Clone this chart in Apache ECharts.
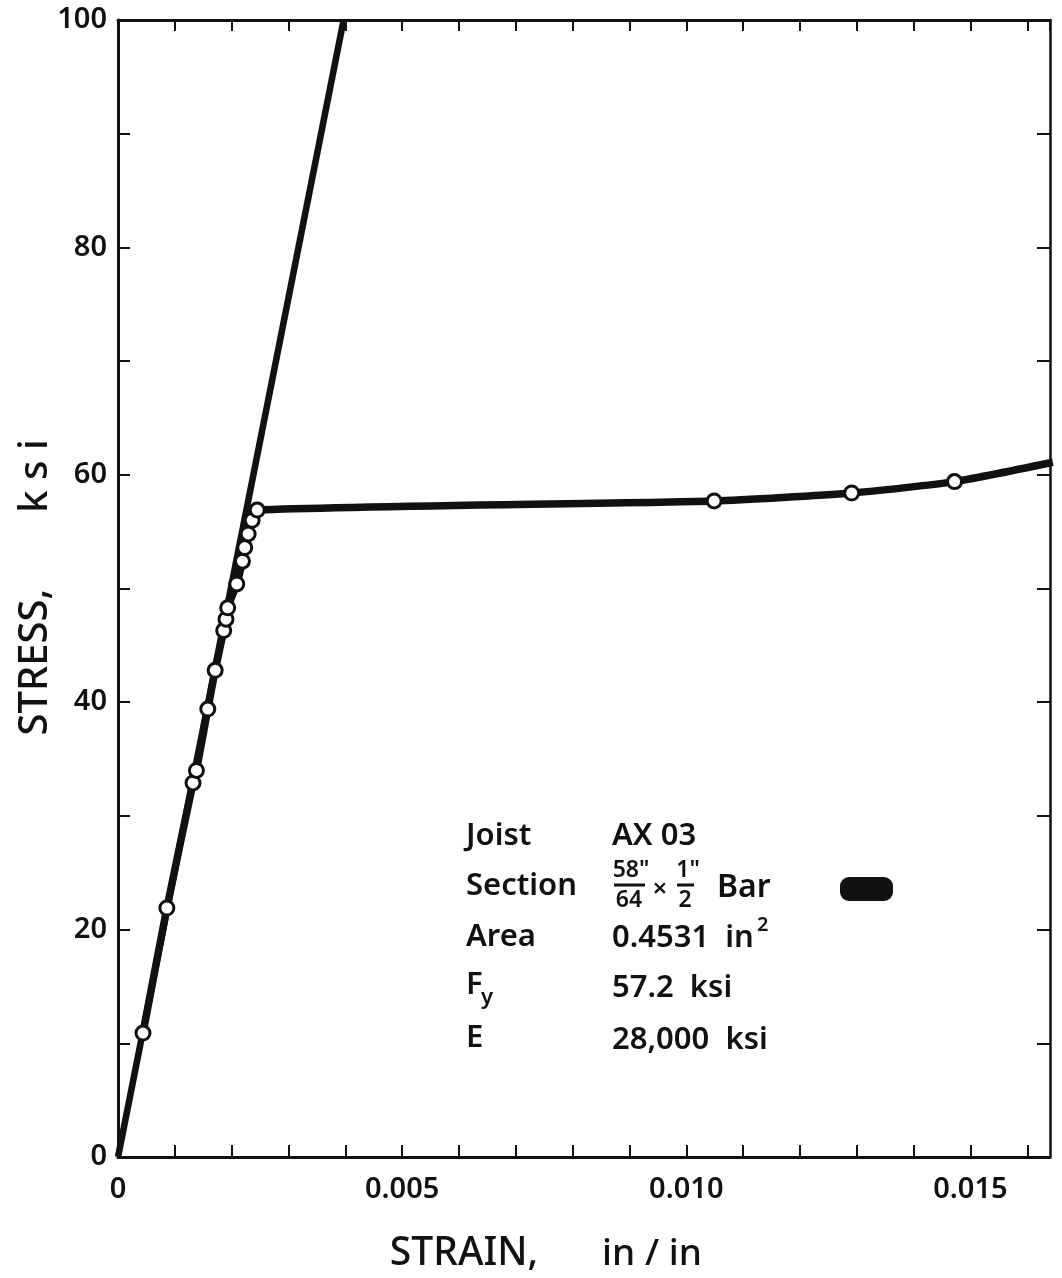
<!DOCTYPE html>
<html>
<head>
<meta charset="utf-8">
<script src="https://cdn.jsdelivr.net/npm/echarts@6/dist/echarts.min.js"></script>
<style>
  html, body { margin: 0; padding: 0; background: #ffffff; }
  #chart { width: 1062px; height: 1278px; }
</style>
</head>
<body>
<div id="chart"></div>
<script>
// Stress-strain record for joist AX03 (strain in in/in, stress in ksi)
const strainTickLabels = ['0', '0.005', '0.010', '0.015'];
const stressTickLabels = ['0', '20', '40', '60', '80', '100'];

// Elastic reference line from the origin
const elasticStrain = [0, 0.00397];
const elasticStress = [0, 100];

// Measured points
const testStrain = [0.00044, 0.00086, 0.00132, 0.00138, 0.00158, 0.00171, 0.00186, 0.00190,
                    0.00193, 0.00209, 0.00219, 0.00223, 0.00229, 0.00236, 0.00245,
                    0.01049, 0.01291, 0.01472];
const testStress = [10.9, 21.9, 32.9, 34.0, 39.4, 42.8, 46.3, 47.3,
                    48.3, 50.4, 52.4, 53.6, 54.8, 56.0, 56.9,
                    57.7, 58.4, 59.4];
// Curve continues past the last reading to the edge of the plot
const tailStrain = [0.01645];
const tailStress = [61.1];

const X_MIN = 0, X_MAX = 0.0164, Y_MIN = 0, Y_MAX = 100;
const FONT = '"Noto Sans", "DejaVu Sans", sans-serif';
const INK = '#111111';

const chart = echarts.init(document.getElementById('chart'), null, { renderer: 'canvas' });

const elasticData = elasticStrain.map((x, i) => [x, elasticStress[i]]);
const testData = testStrain.map((x, i) => [x, testStress[i]]);
tailStrain.forEach((x, i) => testData.push({ value: [x, tailStress[i]], symbol: 'none' }));

function strainLabel(v) {
  const k = Math.round(v * 1000);
  if (Math.abs(v * 1000 - k) > 1e-6 || k % 5 !== 0) return '';
  return strainTickLabels[k / 5] || '';
}
function stressLabel(v) {
  const k = Math.round(v);
  if (k % 20 !== 0) return '';
  return stressTickLabels[k / 20] || '';
}

const axisLineStyle = { color: INK, width: 3 };

function txt(x, y, text, size, extra) {
  return Object.assign({
    type: 'text', x: x, y: y,
    style: { text: text, font: '600 ' + size + 'px ' + FONT, fill: INK,
             align: 'left', verticalAlign: 'middle' }
  }, extra || {});
}
function ctxt(x, y, text, size) {
  const t = txt(x, y, text, size);
  t.style.align = 'center';
  return t;
}

const option = {
  backgroundColor: '#ffffff',
  animation: false,
  grid: { left: 118, right: 12, top: 20, bottom: 121, containLabel: false },
  xAxis: [
    {
      type: 'value', position: 'bottom', min: X_MIN, max: X_MAX, interval: 0.001,
      axisLine: { show: true, onZero: false, lineStyle: axisLineStyle },
      axisTick: { show: true, inside: true, length: 12, lineStyle: { color: INK, width: 2 } },
      axisLabel: { show: true, margin: 18, formatter: strainLabel, color: INK,
                   fontFamily: FONT, fontSize: 29, fontWeight: 600, showMaxLabel: false },
      splitLine: { show: false }
    },
    {
      type: 'value', position: 'top', min: X_MIN, max: X_MAX, interval: 0.001,
      axisLine: { show: true, onZero: false, lineStyle: axisLineStyle },
      axisTick: { show: true, inside: true, length: 11, lineStyle: { color: INK, width: 2 } },
      axisLabel: { show: false },
      splitLine: { show: false }
    }
  ],
  yAxis: [
    {
      type: 'value', position: 'left', min: Y_MIN, max: Y_MAX, interval: 10,
      axisLine: { show: true, onZero: false, lineStyle: axisLineStyle },
      axisTick: { show: true, inside: true, length: 12, lineStyle: { color: INK, width: 2 } },
      axisLabel: { show: true, margin: 11, formatter: stressLabel, color: INK,
                   fontFamily: FONT, fontSize: 29, fontWeight: 600 },
      splitLine: { show: false }
    },
    {
      type: 'value', position: 'right', min: Y_MIN, max: Y_MAX, interval: 10,
      axisLine: { show: true, onZero: false, lineStyle: { color: INK, width: 2.5 } },
      axisTick: { show: true, inside: true, length: 13, lineStyle: { color: INK, width: 2 } },
      axisLabel: { show: false },
      splitLine: { show: false }
    }
  ],
  series: [
    {
      name: 'Elastic', type: 'line', xAxisIndex: 0, yAxisIndex: 0,
      data: elasticData, symbol: 'none', silent: true,
      lineStyle: { color: INK, width: 6.5 }, z: 2
    },
    {
      name: 'AX03', type: 'line', xAxisIndex: 0, yAxisIndex: 0,
      data: testData, symbol: 'circle', symbolSize: 14, showAllSymbol: true,
      smooth: 0.2,
      lineStyle: { color: INK, width: 7.5 },
      itemStyle: { color: '#ffffff', borderColor: INK, borderWidth: 3 },
      z: 3
    }
  ],
  graphic: [
    // axis titles
    { type: 'text', x: 36, y: 662, rotation: Math.PI / 2,
      style: { text: 'STRESS,', font: '500 40px ' + FONT, fill: INK, align: 'center', verticalAlign: 'middle' } },
    { type: 'text', x: 36, y: 476, rotation: Math.PI / 2,
      style: { text: 'k s i', font: '500 40px ' + FONT, fill: INK, align: 'center', verticalAlign: 'middle' } },
    { type: 'text', x: 464, y: 1254,
      style: { text: 'STRAIN,', font: '500 39px ' + FONT, fill: INK, align: 'center', verticalAlign: 'middle' } },
    { type: 'text', x: 652, y: 1254,
      style: { text: 'in / in', font: '500 37px ' + FONT, fill: INK, align: 'center', verticalAlign: 'middle' } },

    // specimen description block
    txt(466, 836, 'Joist', 31),
    txt(612, 836, 'AX 03', 31),

    txt(466, 886, 'Section', 31),
    ctxt(631, 870, '58"', 23),
    { type: 'line', shape: { x1: 614, y1: 885, x2: 645, y2: 885 }, style: { stroke: INK, lineWidth: 3 } },
    ctxt(629, 900, '64', 23),
    ctxt(660, 890, '×', 26),
    ctxt(688, 870, '1"', 23),
    { type: 'line', shape: { x1: 677, y1: 885, x2: 694, y2: 885 }, style: { stroke: INK, lineWidth: 3 } },
    ctxt(685, 900, '2', 23),
    txt(717, 888, 'Bar', 32),
    { type: 'rect', shape: { x: 840, y: 877, width: 53, height: 24, r: 9 }, style: { fill: INK } },

    txt(466, 937, 'Area', 31),
    txt(612, 938, '0.4531  in', 31),
    txt(757, 925, '2', 20),

    txt(466, 985, 'F', 31),
    txt(481, 998, 'y', 22),
    txt(612, 988, '57.2  ksi', 31),

    txt(466, 1038, 'E', 31),
    txt(612, 1040, '28,000  ksi', 31)
  ]
};

chart.setOption(option);
</script>
</body>
</html>
